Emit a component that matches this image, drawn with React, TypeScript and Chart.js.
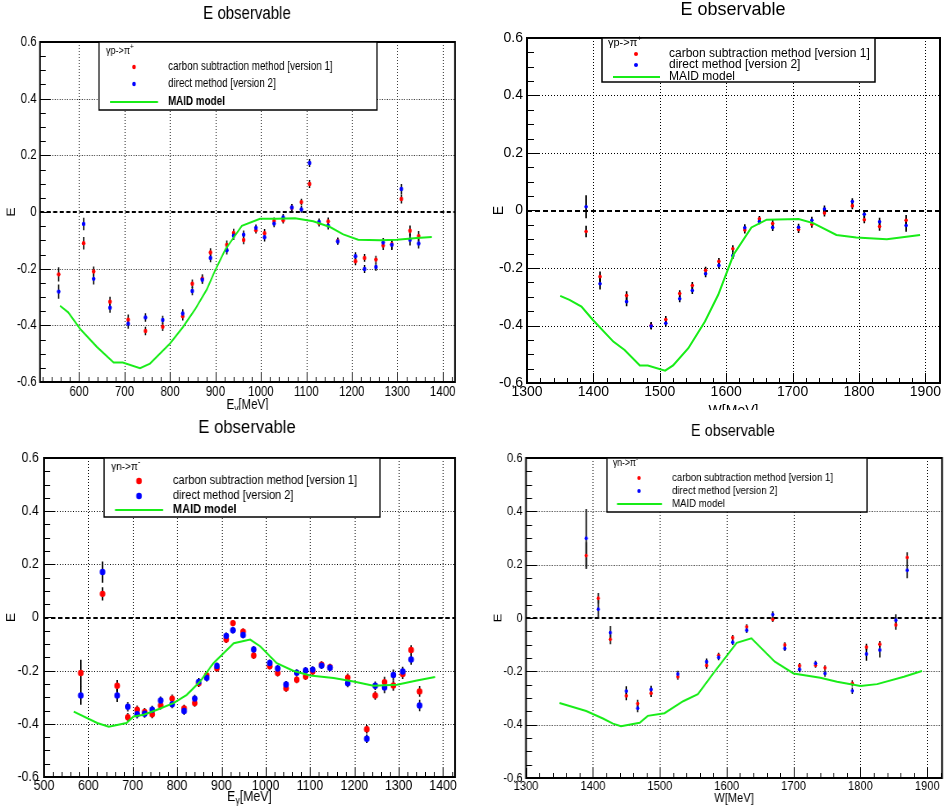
import React, { useEffect, useRef } from 'react';
import { Chart, registerables } from 'chart.js';

Chart.register(...registerables);

const FAMILY = '"Liberation Sans", Arial, Helvetica, sans-serif';

// ---------------- shared axis / text data ----------------
const Y_TICKS = [-0.6, -0.4, -0.2, 0, 0.2, 0.4, 0.6];
const Y_MINOR_STEP = 0.05;
const X_MINOR_STEP = 20;
const X_TICKS_P1 = [600, 700, 800, 900, 1000, 1100, 1200, 1300, 1400];
const X_TICKS_P3 = [500, 600, 700, 800, 900, 1000, 1100, 1200, 1300, 1400];
const X_TICKS_W = [1300, 1400, 1500, 1600, 1700, 1800, 1900];
const TITLE = 'E observable';
const Y_TITLE = 'E';
const LABEL_CARBON = 'carbon subtraction method [version 1]';
const LABEL_DIRECT = 'direct method [version 2]';
const LABEL_MAID = 'MAID model';

// ---------------- panel 1: gamma p -> pi+ vs E_gamma ----------------
const P1_X = [555, 610, 632, 668, 708, 746, 784, 828, 849, 871, 889, 925, 940, 962, 989, 1008, 1029, 1049, 1068, 1089, 1107, 1128, 1148, 1169, 1208, 1228, 1253, 1269, 1288, 1309, 1328, 1347];
const P1_CARBON = [-0.22, -0.11, -0.21, -0.317, -0.38, -0.42, -0.405, -0.368, -0.253, -0.235, -0.143, -0.116, -0.074, -0.099, -0.064, -0.075, -0.032, -0.029, 0.015, 0.035, 0.099, -0.039, -0.033, -0.102, -0.174, -0.162, -0.168, -0.118, -0.114, 0.046, -0.066, -0.085];
const P1_CARBON_ERR = [0.025, 0.022, 0.018, 0.018, 0.018, 0.015, 0.015, 0.015, 0.015, 0.015, 0.015, 0.015, 0.015, 0.015, 0.012, 0.015, 0.013, 0.012, 0.012, 0.012, 0.014, 0.012, 0.014, 0.012, 0.014, 0.014, 0.014, 0.016, 0.018, 0.016, 0.018, 0.018];
const P1_DIRECT = [-0.281, -0.042, -0.236, -0.338, -0.394, -0.372, -0.381, -0.358, -0.279, -0.239, -0.162, -0.135, -0.084, -0.08, -0.056, -0.089, -0.041, -0.019, 0.016, 0.009, 0.173, -0.035, -0.048, -0.104, -0.156, -0.201, -0.194, -0.108, -0.116, 0.081, -0.098, -0.111];
const P1_DIRECT_ERR = [0.025, 0.022, 0.02, 0.018, 0.018, 0.015, 0.015, 0.015, 0.015, 0.015, 0.015, 0.015, 0.015, 0.015, 0.012, 0.015, 0.013, 0.012, 0.012, 0.012, 0.014, 0.012, 0.014, 0.012, 0.014, 0.014, 0.014, 0.016, 0.018, 0.018, 0.02, 0.018];
const P1_MAID_X = [558, 576, 602, 639, 676, 696, 734, 756, 800, 829, 855, 881, 899, 921, 958, 998, 1035, 1075, 1115, 1152, 1181, 1214, 1262, 1299, 1343, 1376];
const P1_MAID_Y = [-0.331, -0.354, -0.412, -0.476, -0.531, -0.531, -0.551, -0.535, -0.464, -0.405, -0.344, -0.273, -0.207, -0.134, -0.049, -0.024, -0.024, -0.022, -0.033, -0.053, -0.079, -0.098, -0.1, -0.098, -0.092, -0.088];

// ---------------- panel 2: gamma p -> pi+ vs W ----------------
const P2_X = [1389, 1410, 1450, 1487, 1509, 1530, 1549, 1569, 1589, 1610, 1628, 1650, 1670, 1709, 1729, 1748, 1790, 1808, 1831, 1871];
const P2_CARBON = [-0.073, -0.23, -0.296, -0.4, -0.379, -0.289, -0.261, -0.208, -0.177, -0.133, -0.068, -0.029, -0.045, -0.066, -0.048, -0.009, 0.016, -0.032, -0.056, -0.034];
const P2_CARBON_ERR = [0.02, 0.018, 0.015, 0.012, 0.012, 0.012, 0.012, 0.012, 0.012, 0.012, 0.012, 0.01, 0.012, 0.012, 0.012, 0.012, 0.012, 0.012, 0.014, 0.018];
const P2_DIRECT = [0.013, -0.255, -0.317, -0.402, -0.392, -0.307, -0.278, -0.22, -0.191, -0.157, -0.06, -0.038, -0.059, -0.058, -0.034, 0.005, 0.031, -0.013, -0.039, -0.052];
const P2_DIRECT_ERR = [0.04, 0.02, 0.016, 0.012, 0.012, 0.012, 0.012, 0.012, 0.012, 0.012, 0.012, 0.01, 0.012, 0.012, 0.012, 0.012, 0.012, 0.012, 0.014, 0.022];
const P2_MAID_X = [1350, 1364, 1382, 1399, 1430, 1447, 1470, 1482, 1508, 1520, 1543, 1568, 1588, 1611, 1638, 1661, 1709, 1731, 1766, 1796, 1842, 1892];
const P2_MAID_Y = [-0.297, -0.311, -0.334, -0.38, -0.456, -0.485, -0.539, -0.539, -0.557, -0.539, -0.479, -0.386, -0.293, -0.154, -0.059, -0.032, -0.03, -0.044, -0.085, -0.094, -0.1, -0.085];

// ---------------- panel 3: gamma n -> pi- vs E_gamma ----------------
const P3_X = [583, 632, 665, 689, 710, 727, 744, 763, 789, 816, 840, 849, 867, 890, 911, 926, 949, 973, 1009, 1027, 1046, 1070, 1090, 1106, 1126, 1145, 1185, 1228, 1247, 1268, 1288, 1309, 1328, 1347];
const P3_CARBON = [-0.209, 0.089, -0.257, -0.375, -0.347, -0.355, -0.364, -0.331, -0.305, -0.342, -0.322, -0.247, -0.218, -0.191, -0.083, -0.021, -0.053, -0.143, -0.183, -0.209, -0.266, -0.234, -0.222, -0.203, -0.178, -0.187, -0.226, -0.42, -0.293, -0.243, -0.256, -0.213, -0.122, -0.278];
const P3_CARBON_ERR = [0.05, 0.025, 0.022, 0.016, 0.016, 0.015, 0.015, 0.015, 0.015, 0.014, 0.014, 0.014, 0.014, 0.013, 0.013, 0.012, 0.012, 0.013, 0.013, 0.013, 0.013, 0.013, 0.013, 0.013, 0.013, 0.013, 0.015, 0.016, 0.016, 0.02, 0.02, 0.018, 0.018, 0.02];
const P3_DIRECT = [-0.293, 0.171, -0.293, -0.336, -0.364, -0.362, -0.347, -0.312, -0.326, -0.352, -0.305, -0.242, -0.227, -0.182, -0.069, -0.048, -0.066, -0.12, -0.171, -0.192, -0.252, -0.208, -0.199, -0.196, -0.181, -0.189, -0.247, -0.456, -0.257, -0.263, -0.216, -0.203, -0.158, -0.331];
const P3_DIRECT_ERR = [0.035, 0.04, 0.025, 0.018, 0.016, 0.015, 0.015, 0.015, 0.015, 0.014, 0.014, 0.014, 0.014, 0.013, 0.013, 0.012, 0.012, 0.013, 0.013, 0.013, 0.013, 0.013, 0.013, 0.013, 0.013, 0.013, 0.015, 0.016, 0.016, 0.022, 0.02, 0.018, 0.02, 0.022];
const P3_MAID_X = [567, 620, 646, 686, 702, 725, 755, 792, 822, 852, 882, 928, 965, 988, 1025, 1063, 1100, 1153, 1198, 1243, 1296, 1341, 1382];
const P3_MAID_Y = [-0.354, -0.397, -0.411, -0.397, -0.372, -0.366, -0.347, -0.322, -0.291, -0.241, -0.172, -0.097, -0.083, -0.109, -0.172, -0.201, -0.218, -0.228, -0.241, -0.257, -0.253, -0.237, -0.224];

// ---------------- panel 4: gamma n -> pi- vs W ----------------
const P4_X = [1390, 1408, 1426, 1450, 1467, 1487, 1527, 1570, 1588, 1609, 1630, 1669, 1687, 1709, 1733, 1747, 1788, 1809, 1829, 1853, 1870];
const P4_CARBON = [0.234, 0.074, -0.08, -0.292, -0.321, -0.282, -0.22, -0.178, -0.14, -0.074, -0.033, -0.005, -0.101, -0.179, -0.177, -0.187, -0.245, -0.109, -0.098, -0.026, 0.227];
const P4_CARBON_ERR = [0.05, 0.02, 0.018, 0.016, 0.014, 0.014, 0.012, 0.012, 0.01, 0.01, 0.01, 0.01, 0.01, 0.01, 0.01, 0.01, 0.012, 0.012, 0.012, 0.018, 0.02];
const P4_DIRECT = [0.299, 0.033, -0.055, -0.274, -0.338, -0.268, -0.21, -0.164, -0.148, -0.091, -0.046, 0.013, -0.114, -0.193, -0.17, -0.208, -0.273, -0.135, -0.12, -0.008, 0.179];
const P4_DIRECT_ERR = [0.11, 0.035, 0.025, 0.018, 0.015, 0.014, 0.012, 0.012, 0.01, 0.01, 0.01, 0.012, 0.01, 0.01, 0.01, 0.012, 0.012, 0.025, 0.028, 0.022, 0.03];
const P4_MAID_X = [1350, 1390, 1415, 1430, 1442, 1470, 1482, 1507, 1535, 1557, 1580, 1615, 1637, 1672, 1700, 1740, 1765, 1800, 1825, 1865, 1892];
const P4_MAID_Y = [-0.319, -0.349, -0.377, -0.396, -0.406, -0.393, -0.367, -0.357, -0.312, -0.286, -0.208, -0.093, -0.076, -0.164, -0.208, -0.224, -0.239, -0.255, -0.248, -0.22, -0.199];

// ---------------- text pieces ----------------
type Part = { t: string; sub?: boolean; sup?: boolean };
const XT_EGAMMA: Part[] = [{ t: 'E' }, { t: 'γ', sub: true }, { t: '[MeV]' }];
const XT_W: Part[] = [{ t: 'W[MeV]' }];
const HEAD_P: Part[] = [{ t: 'γp->π' }, { t: '+', sup: true }];
const HEAD_N: Part[] = [{ t: 'γn->π' }, { t: '-', sup: true }];

const RED = '#ff0000';
const BLUE = '#0000ff';
const GREEN = 'rgb(24,236,24)';

interface LegendCfg {
  x0: number; y0: number; x1: number; y1: number;
  header: Part[]; hx: number; hy: number; hsize: number;
  mx: number; rows: number[]; lx0: number; lx1: number;
  tx: number; tsize: number; bold: boolean; mr: number;
}
interface PanelCfg {
  left: number; top: number; width: number; height: number; sx: number;
  plot: { l: number; t: number; r: number; b: number };
  xMin: number; xMax: number; xTicks: number[];
  tickSize: number; xPad: number; yPad: number;
  title: { x: number; y: number; size: number };
  xTitle: { parts: Part[]; y: number; size: number };
  yTitle: { x: number; size: number };
  legend: LegendCfg;
  pointR: number;
  x: number[]; carbon: number[]; carbonErr: number[]; direct: number[]; directErr: number[];
  maidX: number[]; maidY: number[];
}

// layout in page pixels (x values relative to each panel's left edge); sx = horizontal squeeze of the panel
const PANELS: PanelCfg[] = [
  {
    left: 0, top: 0, width: 473, height: 410, sx: 0.82,
    plot: { l: 40, t: 42, r: 455, b: 382 },
    xMin: 514, xMax: 1427, xTicks: X_TICKS_P1,
    tickSize: 14, xPad: 2, yPad: 4,
    title: { x: 247, y: 14, size: 18.3 },
    xTitle: { parts: XT_EGAMMA, y: 405, size: 14 },
    yTitle: { x: 12, size: 14 },
    legend: { x0: 99, y0: 42, x1: 377, y1: 110, header: HEAD_P, hx: 106, hy: 51, hsize: 11, mx: 134, rows: [67, 84, 102], lx0: 110, lx1: 158, tx: 168, tsize: 12, bold: true, mr: 2.2 },
    pointR: 2.2,
    x: P1_X, carbon: P1_CARBON, carbonErr: P1_CARBON_ERR, direct: P1_DIRECT, directErr: P1_DIRECT_ERR,
    maidX: P1_MAID_X, maidY: P1_MAID_Y,
  },
  {
    left: 473, top: 0, width: 473, height: 410, sx: 1,
    plot: { l: 54, t: 38, r: 467, b: 383 },
    xMin: 1300, xMax: 1922, xTicks: X_TICKS_W,
    tickSize: 14, xPad: 1, yPad: 4,
    title: { x: 260, y: 10, size: 18 },
    xTitle: { parts: XT_W, y: 411, size: 14 },
    yTitle: { x: 26, size: 14 },
    legend: { x0: 129, y0: 38, x1: 402, y1: 82, header: HEAD_P, hx: 135, hy: 43, hsize: 11, mx: 163, rows: [54, 65, 77], lx0: 140, lx1: 187, tx: 196, tsize: 12, bold: false, mr: 2 },
    pointR: 1.8,
    x: P2_X, carbon: P2_CARBON, carbonErr: P2_CARBON_ERR, direct: P2_DIRECT, directErr: P2_DIRECT_ERR,
    maidX: P2_MAID_X, maidY: P2_MAID_Y,
  },
  {
    left: 0, top: 410, width: 473, height: 401, sx: 0.88,
    plot: { l: 44, t: 48, r: 455, b: 367 },
    xMin: 500, xMax: 1427, xTicks: X_TICKS_P3,
    tickSize: 14, xPad: 1, yPad: 6,
    title: { x: 247, y: 18, size: 19 },
    xTitle: { parts: XT_EGAMMA, y: 387, size: 14 },
    yTitle: { x: 12, size: 14 },
    legend: { x0: 104, y0: 48, x1: 380, y1: 107, header: HEAD_N, hx: 111, hy: 57, hsize: 11.5, mx: 139, rows: [71, 86, 100], lx0: 115, lx1: 163, tx: 173, tsize: 12.5, bold: true, mr: 3.2 },
    pointR: 3.2,
    x: P3_X, carbon: P3_CARBON, carbonErr: P3_CARBON_ERR, direct: P3_DIRECT, directErr: P3_DIRECT_ERR,
    maidX: P3_MAID_X, maidY: P3_MAID_Y,
  },
  {
    left: 473, top: 410, width: 473, height: 401, sx: 0.86,
    plot: { l: 53, t: 48, r: 469, b: 368 },
    xMin: 1300, xMax: 1922, xTicks: X_TICKS_W,
    tickSize: 13, xPad: 1, yPad: 4,
    title: { x: 260, y: 21, size: 16.7 },
    xTitle: { parts: XT_W, y: 388, size: 13 },
    yTitle: { x: 25, size: 13 },
    legend: { x0: 134, y0: 48, x1: 394, y1: 102, header: HEAD_N, hx: 140, hy: 53, hsize: 10, mx: 166, rows: [68, 81, 94], lx0: 144, lx1: 189, tx: 199, tsize: 11.2, bold: false, mr: 1.9 },
    pointR: 1.9,
    x: P4_X, carbon: P4_CARBON, carbonErr: P4_CARBON_ERR, direct: P4_DIRECT, directErr: P4_DIRECT_ERR,
    maidX: P4_MAID_X, maidY: P4_MAID_Y,
  },
];

// convert page-pixel x positions into the (unsqueezed) canvas coordinates
function toCanvas(c: PanelCfg): PanelCfg {
  const k = 1 / c.sx;
  const L = c.legend;
  return {
    ...c,
    width: Math.round(c.width * k),
    plot: { ...c.plot, l: c.plot.l * k, r: c.plot.r * k },
    title: { ...c.title, x: c.title.x * k },
    yTitle: { ...c.yTitle, x: c.yTitle.x * k },
    legend: {
      ...L,
      x0: L.x0 * k, x1: L.x1 * k, hx: L.hx * k, mx: L.mx * k, lx0: L.lx0 * k, lx1: L.lx1 * k, tx: L.tx * k,
    },
  };
}

function font(size: number, bold = false) {
  return `${bold ? 'bold ' : ''}${size}px ${FAMILY}`;
}

function drawParts(ctx: CanvasRenderingContext2D, parts: Part[], x: number, y: number, size: number, bold: boolean, align: 'left' | 'center') {
  const sizes = parts.map((p) => (p.sub || p.sup ? size * 0.72 : size));
  const widths = parts.map((p, i) => {
    ctx.font = font(sizes[i], bold);
    return ctx.measureText(p.t).width;
  });
  const total = widths.reduce((a, b) => a + b, 0);
  let cx = align === 'center' ? x - total / 2 : x;
  ctx.textAlign = 'left';
  ctx.textBaseline = 'middle';
  parts.forEach((p, i) => {
    ctx.font = font(sizes[i], bold);
    const dy = p.sub ? size * 0.32 : p.sup ? -size * 0.38 : 0;
    ctx.fillText(p.t, cx, y + dy);
    cx += widths[i];
  });
}

function makePlugin(cfg: PanelCfg) {
  return {
    id: 'rootStyle',
    beforeDatasetsDraw(chart: any) {
      const { ctx, chartArea: ca } = chart;
      const xs = chart.scales.x;
      const ys = chart.scales.y;
      ctx.save();
      ctx.beginPath();
      ctx.rect(ca.left, ca.top, ca.right - ca.left, ca.bottom - ca.top);
      ctx.clip();
      ctx.strokeStyle = '#000';
      ctx.lineWidth = 1;
      ctx.setLineDash([1, 2]);
      ctx.beginPath();
      for (const v of cfg.xTicks) {
        const px = Math.round(xs.getPixelForValue(v)) + 0.5;
        if (px < ca.left + 2 || px > ca.right - 2) continue;
        ctx.moveTo(px, ca.top);
        ctx.lineTo(px, ca.bottom);
      }
      for (const v of Y_TICKS) {
        if (v === 0) continue;
        const py = Math.round(ys.getPixelForValue(v)) + 0.5;
        if (py < ca.top + 2 || py > ca.bottom - 2) continue;
        ctx.moveTo(ca.left, py);
        ctx.lineTo(ca.right, py);
      }
      ctx.stroke();
      ctx.setLineDash([5, 3]);
      ctx.lineWidth = 2;
      const y0 = Math.round(ys.getPixelForValue(0));
      ctx.beginPath();
      ctx.moveTo(ca.left, y0);
      ctx.lineTo(ca.right, y0);
      ctx.stroke();
      ctx.setLineDash([]);
      ctx.lineWidth = 1.6;
      const bars = (vals: number[], errs: number[]) => {
        ctx.beginPath();
        cfg.x.forEach((xv, i) => {
          const px = xs.getPixelForValue(xv);
          ctx.moveTo(px, ys.getPixelForValue(vals[i] - errs[i]));
          ctx.lineTo(px, ys.getPixelForValue(vals[i] + errs[i]));
        });
        ctx.stroke();
      };
      bars(cfg.carbon, cfg.carbonErr);
      bars(cfg.direct, cfg.directErr);
      ctx.restore();
    },
    afterDatasetsDraw(chart: any) {
      const { ctx, chartArea: ca } = chart;
      const xs = chart.scales.x;
      const ys = chart.scales.y;
      ctx.save();
      ctx.setLineDash([]);
      ctx.strokeStyle = '#000';
      ctx.lineWidth = 1;
      ctx.beginPath();
      const nY = Math.round((Y_TICKS[Y_TICKS.length - 1] - Y_TICKS[0]) / Y_MINOR_STEP);
      for (let k = 0; k <= nY; k++) {
        const v = Y_TICKS[0] + k * Y_MINOR_STEP;
        const py = Math.round(ys.getPixelForValue(v)) + 0.5;
        const major = k % 4 === 0;
        ctx.moveTo(ca.left, py);
        ctx.lineTo(ca.left + (major ? 13 : 7), py);
      }
      for (let v = Math.ceil(cfg.xMin / X_MINOR_STEP) * X_MINOR_STEP; v <= cfg.xMax; v += X_MINOR_STEP) {
        const px = Math.round(xs.getPixelForValue(v)) + 0.5;
        const major = v % 100 === 0;
        ctx.moveTo(px, ca.bottom);
        ctx.lineTo(px, ca.bottom - (major ? 10 : 5));
      }
      ctx.stroke();
      ctx.lineWidth = 2;
      ctx.strokeRect(ca.left, ca.top, ca.right - ca.left, ca.bottom - ca.top);

      const L = cfg.legend;
      const ds = chart.data.datasets;
      ctx.fillStyle = '#fff';
      ctx.fillRect(L.x0, L.y0, L.x1 - L.x0, L.y1 - L.y0);
      ctx.lineWidth = 1.5;
      ctx.strokeStyle = '#000';
      ctx.strokeRect(L.x0, L.y0, L.x1 - L.x0, L.y1 - L.y0);
      ctx.fillStyle = '#000';
      drawParts(ctx, L.header, L.hx, L.hy, L.hsize, false, 'left');
      [0, 1].forEach((k) => {
        ctx.fillStyle = ds[k].backgroundColor;
        ctx.beginPath();
        ctx.arc(L.mx, L.rows[k], L.mr, 0, Math.PI * 2);
        ctx.fill();
        ctx.fillStyle = '#000';
        drawParts(ctx, [{ t: ds[k].label }], L.tx, L.rows[k], L.tsize, false, 'left');
      });
      ctx.strokeStyle = ds[2].borderColor;
      ctx.lineWidth = 2;
      ctx.beginPath();
      ctx.moveTo(L.lx0, L.rows[2]);
      ctx.lineTo(L.lx1, L.rows[2]);
      ctx.stroke();
      ctx.fillStyle = '#000';
      drawParts(ctx, [{ t: ds[2].label }], L.tx, L.rows[2], L.tsize, L.bold, 'left');

      drawParts(ctx, [{ t: TITLE }], cfg.title.x, cfg.title.y, cfg.title.size, false, 'center');
      drawParts(ctx, cfg.xTitle.parts, (ca.left + ca.right) / 2, cfg.xTitle.y, cfg.xTitle.size, false, 'center');
      ctx.save();
      ctx.translate(cfg.yTitle.x, (ca.top + ca.bottom) / 2);
      ctx.rotate(-Math.PI / 2);
      drawParts(ctx, [{ t: Y_TITLE }], 0, 0, cfg.yTitle.size, false, 'center');
      ctx.restore();
      ctx.restore();
    },
  };
}

function Panel({ page }: { page: PanelCfg }) {
  const ref = useRef<HTMLCanvasElement>(null);
  const cfg = toCanvas(page);
  useEffect(() => {
    const canvas = ref.current;
    if (!canvas) return;
    const chart = new Chart(canvas, {
      type: 'scatter',
      data: {
        datasets: [
          {
            label: LABEL_CARBON,
            data: cfg.x.map((x, i) => ({ x, y: cfg.carbon[i] })),
            backgroundColor: RED,
            borderColor: RED,
            borderWidth: 0,
            pointRadius: cfg.pointR,
            pointHoverRadius: cfg.pointR,
            order: 2,
          },
          {
            label: LABEL_DIRECT,
            data: cfg.x.map((x, i) => ({ x, y: cfg.direct[i] })),
            backgroundColor: BLUE,
            borderColor: BLUE,
            borderWidth: 0,
            pointRadius: cfg.pointR,
            pointHoverRadius: cfg.pointR,
            order: 1,
          },
          {
            label: LABEL_MAID,
            data: cfg.maidX.map((x, i) => ({ x, y: cfg.maidY[i] })),
            showLine: true,
            borderColor: GREEN,
            backgroundColor: GREEN,
            borderWidth: 2,
            pointRadius: 0,
            tension: 0,
            fill: false,
            order: 0,
          },
        ] as any,
      },
      options: {
        responsive: false,
        animation: false,
        devicePixelRatio: 1,
        events: [],
        layout: {
          padding: { top: cfg.plot.t, left: 0, right: cfg.width - cfg.plot.r, bottom: 0 },
        },
        plugins: {
          legend: { display: false },
          title: { display: false },
          tooltip: { enabled: false },
        },
        scales: {
          x: {
            type: 'linear',
            min: cfg.xMin,
            max: cfg.xMax,
            grid: { display: false, drawTicks: false },
            border: { display: false },
            ticks: {
              color: '#000',
              font: { family: FAMILY, size: cfg.tickSize },
              padding: cfg.xPad,
              autoSkip: false,
              maxRotation: 0,
              includeBounds: false,
              callback: (v: any) => String(v),
            },
            afterBuildTicks: (s: any) => {
              s.ticks = cfg.xTicks.map((value) => ({ value }));
            },
            afterFit: (s: any) => {
              s.height = cfg.height - cfg.plot.b;
            },
          },
          y: {
            type: 'linear',
            min: Y_TICKS[0],
            max: Y_TICKS[Y_TICKS.length - 1],
            grid: { display: false, drawTicks: false },
            border: { display: false },
            ticks: {
              color: '#000',
              font: { family: FAMILY, size: cfg.tickSize },
              padding: cfg.yPad,
              autoSkip: false,
              includeBounds: false,
              callback: (v: any) => String(v),
            },
            afterBuildTicks: (s: any) => {
              s.ticks = Y_TICKS.map((value) => ({ value }));
            },
            afterFit: (s: any) => {
              s.width = cfg.plot.l;
            },
          },
        },
      } as any,
      plugins: [makePlugin(cfg)],
    });
    return () => chart.destroy();
  }, [page]);
  return (
    <canvas
      ref={ref}
      width={cfg.width}
      height={cfg.height}
      style={{
        position: 'absolute',
        left: page.left,
        top: page.top,
        width: cfg.width,
        height: cfg.height,
        transform: `scaleX(${page.sx})`,
        transformOrigin: '0 0',
      }}
    />
  );
}

export default function App() {
  return (
    <div style={{ position: 'absolute', left: 0, top: 0, width: 946, height: 811, background: '#fff', overflow: 'hidden' }}>
      {PANELS.map((p, i) => (
        <Panel key={i} page={p} />
      ))}
    </div>
  );
}
